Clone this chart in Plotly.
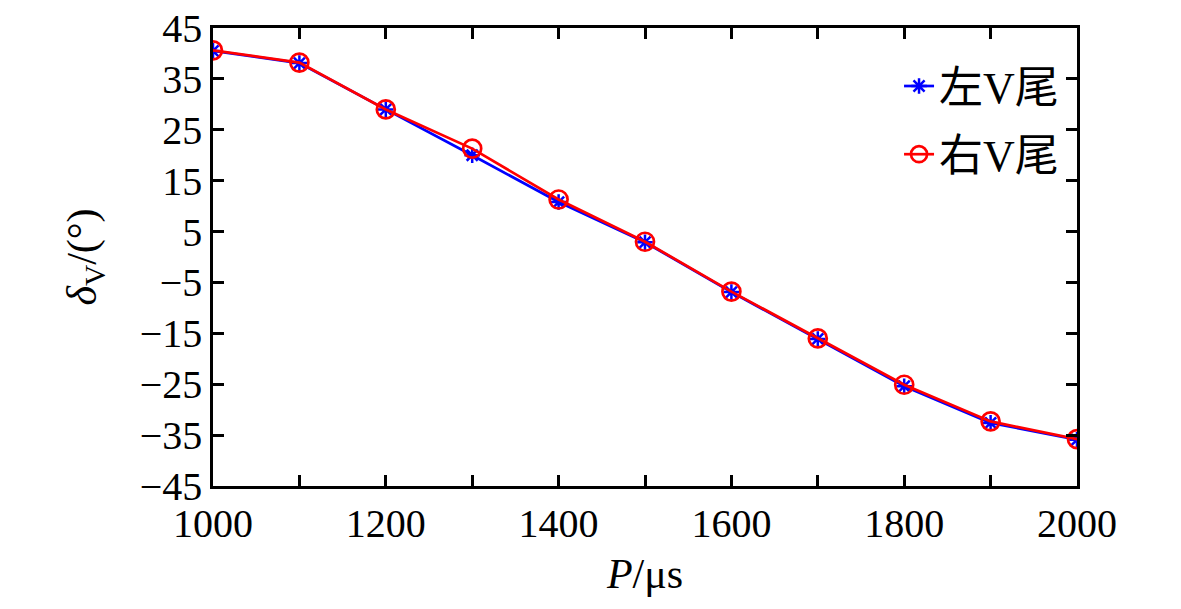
import plotly.graph_objects as go

# 数据
P_us = [1000, 1100, 1200, 1300, 1400, 1500, 1600, 1700, 1800, 1900, 2000]
left_v = [40.5, 38.1, 29.0, 20.0, 10.8, 2.9, -6.9, -16.1, -25.4, -32.6, -35.9]
right_v = [40.6, 38.2, 29.0, 21.3, 11.3, 3.0, -6.8, -16.0, -25.1, -32.3, -35.8]

y_ticks = list(range(-45, 46, 10))

FONT = 'Liberation Serif, Times New Roman, Noto Sans CJK SC'

fig = go.Figure()
fig.add_trace(go.Scatter(
    x=P_us, y=left_v, name='左V尾', mode='lines+markers', legendgroup='l',
    line=dict(color='#0000ff', width=2.7),
    marker=dict(symbol='asterisk-open', size=13, color='#0000ff',
                line=dict(color='#0000ff', width=2.5))))
fig.add_trace(go.Scatter(
    x=P_us, y=right_v, name='右V尾', mode='lines+markers', legendgroup='r',
    line=dict(color='#ff0000', width=2.7),
    marker=dict(symbol='circle-open', size=18, color='#ff0000',
                line=dict(color='#ff0000', width=2.7))))

axis_common = dict(showline=True, linecolor='black', linewidth=2.5, mirror='ticks',
                   ticks='inside', ticklen=11, tickwidth=2.5, tickcolor='black',
                   showgrid=False, zeroline=False, ticklabeloverflow='allow',
                   automargin=False,
                   tickfont=dict(family=FONT, size=40, color='black'))

fig.update_xaxes(range=[1000, 2000], dtick=200, tick0=1000,
                 minor=dict(dtick=100, ticks='inside', ticklen=11, tickwidth=2.5,
                            tickcolor='black', showgrid=False),
                 title=dict(text='<i>P</i>/μs', font=dict(family=FONT, size=42, color='black'),
                            standoff=14),
                 **axis_common)
fig.update_yaxes(range=[-45, 45], tickvals=y_ticks,
                 title=dict(text='<i>δ</i><sub>V</sub>/(°)', font=dict(family=FONT, size=42, color='black'),
                            standoff=30),
                 **axis_common)

fig.update_layout(
    width=1181, height=609,
    margin=dict(l=205, r=112, t=20, b=131),
    plot_bgcolor='white', paper_bgcolor='white',
    font=dict(family=FONT, color='black'),
    legend=dict(x=0.985, y=0.95, xanchor='right', yanchor='top',
                traceorder='grouped', tracegroupgap=8,
                bgcolor='rgba(0,0,0,0)', font=dict(family=FONT, size=44, color='black')),
)

fig.write_html('out.html')
